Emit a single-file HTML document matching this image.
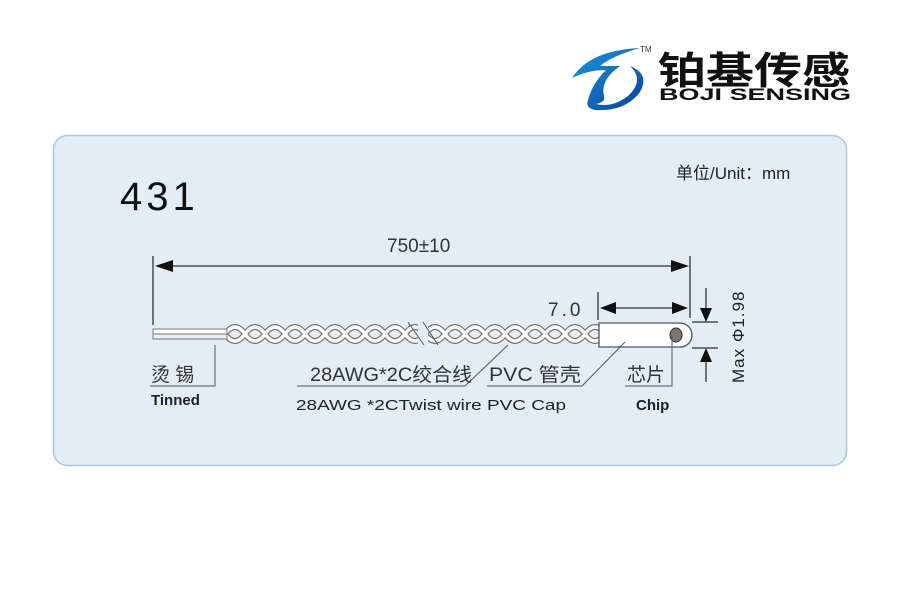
<!DOCTYPE html>
<html><head><meta charset="utf-8"><style>
body{margin:0;background:#fff}
svg{display:block}
text{font-family:"Liberation Sans","Noto Sans CJK SC",sans-serif}
</style></head><body>
<svg width="900" height="600" viewBox="0 0 900 600" xmlns="http://www.w3.org/2000/svg">
<defs>
<linearGradient id="lg" x1="0" y1="0" x2="1" y2="1"><stop offset="0" stop-color="#1a9be0"/><stop offset="1" stop-color="#0a3f9a"/></linearGradient>
</defs>
<g>
<path d="M572 78 Q590 50 640 48 Q612 56 600 66 L620 66 Q600 80 604 96 Q606 102 596 104 Q612 108 628 96 Q645 80 630 66 Q650 74 640 92 Q625 112 595 110 Q585 108 588 100 Q592 84 606 70 Q588 70 572 78Z" fill="url(#lg)"/>
<text x="640" y="52" font-size="8" fill="#333">TM</text>
<text x="658" y="84" font-size="38" font-weight="bold" fill="#111" textLength="192" lengthAdjust="spacingAndGlyphs">铂基传感</text>
<text x="659" y="100" font-size="17" font-weight="bold" fill="#111" textLength="192" lengthAdjust="spacingAndGlyphs">BOJI SENSING</text>
</g>
<rect x="53.5" y="135.5" width="793" height="330" rx="14" fill="#e2edf5" stroke="#a8c8de" stroke-width="1.5"/>
<text x="120" y="210" font-size="40" fill="#111" letter-spacing="4">431</text>
<text x="676" y="179" font-size="17" fill="#222">单位/Unit：mm</text>
<text x="387" y="252" font-size="19" fill="#333">750±10</text>
<g stroke="#333" stroke-width="1.3" fill="none">
<line x1="153" y1="256" x2="153" y2="325"/>
<line x1="690" y1="256" x2="690" y2="318"/>
<line x1="160" y1="266" x2="684" y2="266"/>
<line x1="598" y1="292" x2="598" y2="320"/>
<line x1="605" y1="308" x2="683" y2="308"/>
<line x1="692" y1="322" x2="718" y2="322"/>
<line x1="692" y1="348" x2="718" y2="348"/>
<line x1="706" y1="288" x2="706" y2="312"/>
<line x1="706" y1="358" x2="706" y2="382"/>
</g>
<g fill="#111">
<polygon points="155,266 173,260 173,272"/>
<polygon points="689,266 671,260 671,272"/>
<polygon points="600,308 616,302 616,314"/>
<polygon points="688,308 672,302 672,314"/>
<polygon points="706,322 700,308 712,308"/>
<polygon points="706,348 700,362 712,362"/>
</g>
<text x="548" y="316" font-size="19" fill="#333" letter-spacing="3">7.0</text>
<text transform="translate(744,383) rotate(-90)" font-size="17" fill="#222" letter-spacing="1">Max Φ1.98</text>
<g fill="none" stroke-linecap="round">
<path d="M225 334 q10 -14 20 0 t20 0 t20 0 t20 0 t20 0 t20 0 t20 0 t20 0 t20 0 t20 0 t20 0 t20 0 t20 0 t20 0 t20 0 t20 0 t20 0 t20 0 t20 0" stroke="#777" stroke-width="6"/>
<path d="M225 334 q10 14 20 0 t20 0 t20 0 t20 0 t20 0 t20 0 t20 0 t20 0 t20 0 t20 0 t20 0 t20 0 t20 0 t20 0 t20 0 t20 0 t20 0 t20 0 t20 0" stroke="#777" stroke-width="6"/>
<path d="M225 334 q10 -14 20 0 t20 0 t20 0 t20 0 t20 0 t20 0 t20 0 t20 0 t20 0 t20 0 t20 0 t20 0 t20 0 t20 0 t20 0 t20 0 t20 0 t20 0 t20 0" stroke="#fff" stroke-width="3.5"/>
<path d="M225 334 q10 14 20 0 t20 0 t20 0 t20 0 t20 0 t20 0 t20 0 t20 0 t20 0 t20 0 t20 0 t20 0 t20 0 t20 0 t20 0 t20 0 t20 0 t20 0 t20 0" stroke="#fff" stroke-width="3.5"/>
</g>
<g stroke="#777" stroke-width="1">
<rect x="153" y="329" width="74" height="5" fill="#fff"/>
<rect x="153" y="334" width="74" height="5" fill="#eee"/>
</g>
<rect x="418" y="320" width="10" height="28" fill="#e2edf5"/>
<line x1="408" y1="322" x2="424" y2="345" stroke="#555" stroke-width="1"/>
<line x1="423" y1="322" x2="438" y2="345" stroke="#555" stroke-width="1"/>
<path d="M599 323 H680 A12 12 0 0 1 680 347 H599 Z" fill="#fff" stroke="#555" stroke-width="1.3"/>
<ellipse cx="676" cy="335" rx="6" ry="7" fill="#777" stroke="#333"/>
<g stroke="#555" stroke-width="1" fill="none">
<polyline points="150,386 215,386 215,345"/>
<polyline points="297,386 465,386 508,345"/>
<polyline points="487,386 582,386 625,342"/>
<polyline points="625,386 672,386 672,335"/>
</g>
<g font-size="19" fill="#333">
<text x="151" y="381">烫 锡</text>
<text x="310" y="381" textLength="162" lengthAdjust="spacingAndGlyphs">28AWG*2C绞合线</text>
<text x="489" y="381" textLength="92" lengthAdjust="spacingAndGlyphs">PVC 管壳</text>
<text x="627" y="381">芯片</text>
</g>
<g font-size="15" fill="#222">
<text x="151" y="405" font-weight="bold">Tinned</text>
<text x="296" y="410" textLength="270" lengthAdjust="spacingAndGlyphs">28AWG *2CTwist wire PVC Cap</text>
<text x="636" y="410" font-weight="bold">Chip</text>
</g>
</svg>
</body></html>
